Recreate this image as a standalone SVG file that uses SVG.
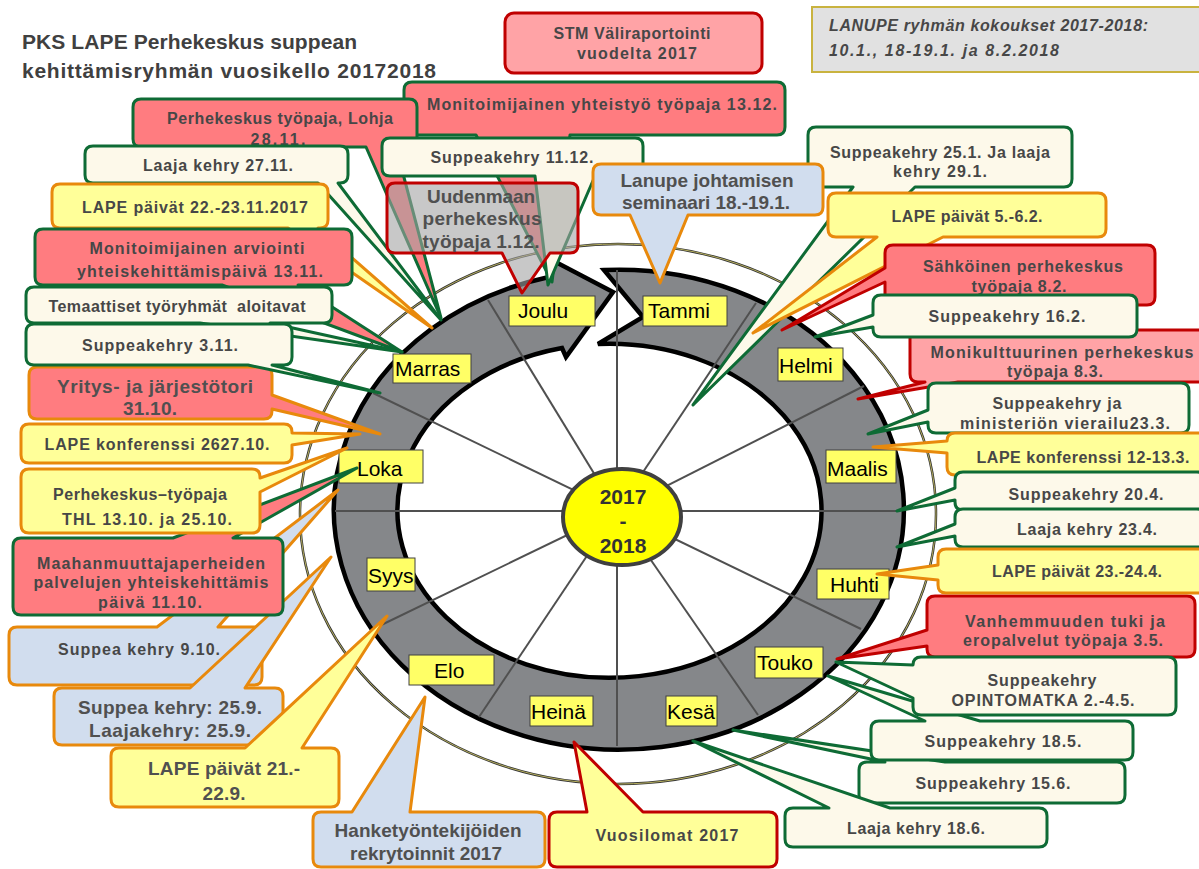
<svg xmlns="http://www.w3.org/2000/svg" width="1199" height="869" viewBox="0 0 1199 869">
<style>
.t{font-family:"Liberation Sans",Arial,sans-serif;font-weight:bold;fill:#474747;text-anchor:middle;font-size:16px}
.a{font-size:19px;fill:#505050}
.m{font-family:"Liberation Sans",Arial,sans-serif;font-size:21px;fill:#000}
.mb{fill:#FFFF66;stroke:#404040;stroke-width:1}
.c{stroke-width:3;stroke-linejoin:round}
.g{stroke:#0E6B35}.o{stroke:#E8890C}.r{stroke:#C00000}
.cr{fill:#FDF9EA}.rd{fill:#FF7C80}.pk{fill:#FFA3A6}.ye{fill:#FFFF99}.bl{fill:#D1DDEE}
.sp{stroke:#505050;stroke-width:2}
</style>
<rect width="1199" height="869" fill="#fff"/>
<g id="title">
<text x="22" y="49" font-family="Liberation Sans,Arial,sans-serif" font-weight="bold" font-size="21" fill="#404040" textLength="335">PKS LAPE Perhekeskus suppean</text>
<text x="22" y="78" font-family="Liberation Sans,Arial,sans-serif" font-weight="bold" font-size="21" fill="#404040" textLength="414">kehittämisryhmän vuosikello 20172018</text>
</g>
<g id="lanupe-info">
<rect x="812" y="7" width="395" height="65" fill="#E1E1E1" stroke="#C9B33F" stroke-width="2"/>
<text x="829" y="31" font-family="Liberation Sans,Arial,sans-serif" font-weight="bold" font-style="italic" font-size="16" fill="#474747" textLength="319">LANUPE ryhmän kokoukset 2017-2018:</text>
<text x="829" y="56" font-family="Liberation Sans,Arial,sans-serif" font-weight="bold" font-style="italic" font-size="16" fill="#474747" textLength="230">10.1., 18-19.1. ja 8.2.2018</text>
</g>
<g id="stm">
<rect x="505" y="13" width="257" height="60" rx="9" class="c r pk"/>
<text class="t" x="632" y="39" textLength="157">STM Väliraportointi</text>
<text class="t" x="637" y="59" textLength="120">vuodelta 2017</text>
</g>
<g id="wheel">
<ellipse cx="618" cy="514" rx="318" ry="270" fill="none" stroke="#333" stroke-width="2.5"/>
<ellipse cx="618" cy="514" rx="318" ry="270" fill="none" stroke="#D8CF6A" stroke-width="0.8"/>
<path d="M604 270 A285 240 0 1 1 549 277 L550 259 L613 292 L566 357 L562 348 A212 167 0 1 0 598 344 L643 317 Z" fill="#85878A" stroke="#000" stroke-width="4.5" stroke-linejoin="miter"/>
</g>
<g id="connectors">
<line class="sp" x1="617" y1="511" x2="899" y2="511"/>
<line class="sp" x1="617" y1="511" x2="861" y2="629"/>
<line class="sp" x1="617" y1="511" x2="758" y2="715"/>
<line class="sp" x1="617" y1="511" x2="617" y2="746"/>
<line class="sp" x1="617" y1="511" x2="479" y2="717"/>
<line class="sp" x1="617" y1="511" x2="373" y2="629"/>
<line class="sp" x1="617" y1="511" x2="335" y2="511"/>
<line class="sp" x1="617" y1="511" x2="373" y2="393"/>
<line class="sp" x1="617" y1="511" x2="488" y2="300"/>
<line class="sp" x1="617" y1="511" x2="617" y2="270"/>
<line class="sp" x1="617" y1="511" x2="756" y2="303"/>
<line class="sp" x1="617" y1="511" x2="864" y2="386"/>
</g>
<g id="center">
<ellipse cx="622" cy="517" rx="59" ry="48" fill="#FFFF00" stroke="#404040" stroke-width="4"/>
<text class="t" x="623" y="504" style="font-size:21px;fill:#333">2017</text>
<text class="t" x="623" y="528" style="font-size:21px;fill:#333">-</text>
<text class="t" x="623" y="553" style="font-size:21px;fill:#333">2018</text>
</g>
<g id="months">
<g id="m-joulu"><rect class="mb" x="509" y="296" width="86" height="30"/><text class="m" x="518" y="318">Joulu</text></g>
<g id="m-tammi"><rect class="mb" x="643" y="296" width="84" height="30"/><text class="m" x="648" y="318">Tammi</text></g>
<g id="m-marras"><rect class="mb" x="393" y="354" width="78" height="29"/><text class="m" x="395" y="376">Marras</text></g>
<g id="m-helmi"><rect class="mb" x="778" y="348" width="65" height="33"/><text class="m" x="779" y="373">Helmi</text></g>
<g id="m-loka"><rect class="mb" x="339" y="450" width="84" height="33"/><text class="m" x="357" y="476">Loka</text></g>
<g id="m-maalis"><rect class="mb" x="826" y="450" width="70" height="33"/><text class="m" x="827" y="476">Maalis</text></g>
<g id="m-syys"><rect class="mb" x="367" y="558" width="48" height="33"/><text class="m" x="368" y="583">Syys</text></g>
<g id="m-huhti"><rect class="mb" x="817" y="569" width="72" height="30"/><text class="m" x="830" y="592">Huhti</text></g>
<g id="m-elo"><rect class="mb" x="409" y="655" width="85" height="30"/><text class="m" x="434" y="678">Elo</text></g>
<g id="m-heina"><rect class="mb" x="530" y="696" width="63" height="30"/><text class="m" x="531" y="719">Heinä</text></g>
<g id="m-kesa"><rect class="mb" x="666" y="696" width="51" height="30"/><text class="m" x="667" y="719">Kesä</text></g>
<g id="m-touko"><rect class="mb" x="755" y="647" width="68" height="31"/><text class="m" x="757" y="670">Touko</text></g>
</g>
<g id="c-yhteistyo"><path class="c g rd" d="M412,82 H777 Q785,82 785,90 V127 Q785,135 777,135 H570 L552,282 L476,135 H412 Q404,135 404,127 V90 Q404,82 412,82 Z"/><text class="t" x="602" y="110" textLength="350">Monitoimijainen yhteistyö työpaja 13.12.</text></g>
<g id="c-lohja"><path class="c g rd" d="M141,99 H409 Q417,99 417,107 V139 Q417,147 409,147 H396 L441,318 L366,147 H141 Q133,147 133,139 V107 Q133,99 141,99 Z"/><text class="t" x="280" y="124" textLength="226">Perhekeskus työpaja, Lohja</text><text class="t" x="278" y="145" textLength="55">28.11.</text></g>
<g id="c-sk1112"><path class="c g cr" d="M390,138 H635 Q643,138 643,146 V168 Q643,176 635,176 H595 L548,285 L535,176 H390 Q382,176 382,168 V146 Q382,138 390,138 Z"/><text class="t" x="512" y="163" textLength="163">Suppeakehry 11.12.</text></g>
<g id="c-lk2711"><path class="c g cr" d="M93,146 H340 Q348,146 348,154 V175 Q348,183 340,183 H338 L441,320 L318,183 H93 Q85,183 85,175 V154 Q85,146 93,146 Z"/><text class="t" x="218" y="171" textLength="150">Laaja kehry 27.11.</text></g>
<g id="c-lape2211"><path class="c o ye" d="M60,184 H320 Q328,184 328,192 V220 Q328,228 320,228 H318 L432,328 L288,228 H60 Q52,228 52,220 V192 Q52,184 60,184 Z"/><text class="t" x="195" y="213" textLength="226">LAPE päivät 22.-23.11.2017</text></g>
<g id="c-arviointi"><path class="c g rd" d="M43,229 H344 Q352,229 352,237 V277 Q352,285 344,285 H298 L402,352 L222,285 H43 Q35,285 35,277 V237 Q35,229 43,229 Z"/><text class="t" x="197" y="254" textLength="215">Monitoimijainen arviointi</text><text class="t" x="200" y="277" textLength="246">yhteiskehittämispäivä 13.11.</text></g>
<g id="c-temaattiset"><path class="c g cr" d="M34,287 H324 Q332,287 332,295 V315 Q332,323 324,323 H270 L402,352 L200,323 H34 Q26,323 26,315 V295 Q26,287 34,287 Z"/><text class="t" x="177" y="312" textLength="257" style="white-space:pre">Temaattiset työryhmät  aloitavat</text></g>
<g id="c-yritys"><path class="c o rd" d="M37,367 H264 Q272,367 272,375 V395 L380,434 L272,409 V411 Q272,419 264,419 H37 Q29,419 29,411 V375 Q29,367 37,367 Z"/><text class="t a" x="155" y="393" textLength="196">Yritys- ja järjestötori</text><text class="t a" x="150" y="415" textLength="54">31.10.</text></g>
<g id="c-sk311"><path class="c g cr" d="M34,324 H284 Q292,324 292,332 V357 Q292,365 284,365 H272 L380,393 L248,365 H34 Q26,365 26,357 V332 Q26,324 34,324 Z"/><text class="t" x="160" y="351" textLength="156">Suppeakehry 3.11.</text></g>
<g id="c-lapekonf10"><path class="c o ye" d="M29,424 H284 Q292,424 292,432 V433 L360,434 L292,445 V455 Q292,463 284,463 H29 Q21,463 21,455 V432 Q21,424 29,424 Z"/><text class="t" x="157" y="450" textLength="225">LAPE konferenssi 2627.10.</text></g>
<g id="c-sk910"><path class="c o bl" d="M17,627 H157 L338,490 L218,627 H254 Q262,627 262,635 V677 Q262,685 254,685 H17 Q9,685 9,677 V635 Q9,627 17,627 Z"/><text class="t" x="139" y="655" textLength="162">Suppea kehry 9.10.</text></g>
<g id="c-sk259"><path class="c o bl" d="M62,688 H190 L331,557 L245,688 H275 Q283,688 283,696 V737 Q283,745 275,745 H62 Q54,745 54,737 V696 Q54,688 62,688 Z"/><text class="t a" x="170" y="714" textLength="184">Suppea kehry: 25.9.</text><text class="t a" x="170" y="737" textLength="162">Laajakehry: 25.9.</text></g>
<g id="c-lape219"><path class="c o ye" d="M119,748 H245 L387,616 L302,748 H331 Q339,748 339,756 V799 Q339,807 331,807 H119 Q111,807 111,799 V756 Q111,748 119,748 Z"/><text class="t a" x="224" y="775" textLength="152">LAPE päivät 21.-</text><text class="t a" x="224" y="800" textLength="43">22.9.</text></g>
<g id="c-maahanmuutto"><path class="c g rd" d="M21,538 H173 L357,468 L233,538 H275 Q283,538 283,546 V607 Q283,615 275,615 H21 Q13,615 13,607 V546 Q13,538 21,538 Z"/><text class="t" x="151" y="569" textLength="228">Maahanmuuttajaperheiden</text><text class="t" x="151" y="588" textLength="235">palvelujen yhteiskehittämis</text><text class="t" x="150" y="608" textLength="104">päivä 11.10.</text></g>
<g id="c-thl"><path class="c o ye" d="M29,469 H252 Q260,469 260,477 V478 L347,448 L260,492 V525 Q260,533 252,533 H29 Q21,533 21,525 V477 Q21,469 29,469 Z"/><text class="t" x="140" y="500" textLength="174">Perhekeskus–työpaja</text><text class="t" x="147" y="525" textLength="170">THL 13.10. ja 25.10.</text></g>
<g id="c-hanke"><path class="c o bl" d="M321,812 H352 L425,697 L410,812 H537 Q545,812 545,820 V859 Q545,867 537,867 H321 Q313,867 313,859 V820 Q313,812 321,812 Z"/><text class="t a" x="428" y="837" textLength="187">Hanketyöntekijöiden</text><text class="t a" x="426" y="860" textLength="152">rekrytoinnit 2017</text></g>
<g id="c-vuosilomat"><path class="c r ye" d="M557,812 H587 L574,742 L643,812 H769 Q777,812 777,820 V859 Q777,867 769,867 H557 Q549,867 549,859 V820 Q549,812 557,812 Z"/><text class="t" x="667" y="841" textLength="143">Vuosilomat 2017</text></g>
<g id="c-sk156"><path class="c g cr" d="M867,762 H885 L733,730 L945,762 H1117 Q1125,762 1125,770 V795 Q1125,803 1117,803 H867 Q859,803 859,795 V770 Q859,762 867,762 Z"/><text class="t" x="993" y="789" textLength="155">Suppeakehry 15.6.</text></g>
<g id="c-lk186"><path class="c g cr" d="M793,808 H829 L693,741 L890,808 H1039 Q1047,808 1047,816 V839 Q1047,847 1039,847 H793 Q785,847 785,839 V816 Q785,808 793,808 Z"/><text class="t" x="916" y="834" textLength="138">Laaja kehry 18.6.</text></g>
<g id="c-sk185"><path class="c g cr" d="M879,721 H925 L828,676 L980,721 H1125 Q1133,721 1133,729 V752 Q1133,760 1125,760 H879 Q871,760 871,752 V729 Q871,721 879,721 Z"/><text class="t" x="1003" y="747" textLength="157">Suppeakehry 18.5.</text></g>
<g id="c-vanhemmuus"><path class="c r rd" d="M935,596 H1187 Q1195,596 1195,604 V649 Q1195,657 1187,657 H935 Q927,657 927,649 V646 L837,659 L927,630 V604 Q927,596 935,596 Z"/><text class="t" x="1065" y="627" textLength="200">Vanhemmuuden tuki ja</text><text class="t" x="1063" y="646" textLength="200">eropalvelut työpaja 3.5.</text></g>
<g id="c-opintomatka"><path class="c g cr" d="M921,657 H1168 Q1176,657 1176,665 V707 Q1176,715 1168,715 H921 Q913,715 913,707 V698 L836,662 L913,665 Q913,657 921,657 Z"/><text class="t" x="1042" y="686" textLength="109">Suppeakehry</text><text class="t" x="1043" y="706" textLength="183">OPINTOMATKA 2.-4.5.</text></g>
<g id="c-sk251"><path class="c g cr" d="M816,127 H1064 Q1072,127 1072,135 V179 Q1072,187 1064,187 H915 L693,405 L853,187 H816 Q808,187 808,179 V135 Q808,127 816,127 Z"/><text class="t" x="940" y="158" textLength="220">Suppeakehry 25.1. Ja laaja</text><text class="t" x="940" y="177" textLength="94">kehry 29.1.</text></g>
<g id="c-lape52"><path class="c o ye" d="M836,193 H1098 Q1106,193 1106,201 V229 Q1106,237 1098,237 H943 L753,333 L877,237 H836 Q828,237 828,229 V201 Q828,193 836,193 Z"/><text class="t" x="967" y="222" textLength="151">LAPE päivät 5.-6.2.</text></g>
<g id="c-sahkoinen"><path class="c r rd" d="M893,245 H1147 Q1155,245 1155,253 V297 Q1155,305 1147,305 H893 Q885,305 885,297 V282 L782,330 L885,268 V253 Q885,245 893,245 Z"/><text class="t" x="1023" y="272" textLength="200">Sähköinen perhekeskus</text><text class="t" x="1019" y="292" textLength="95">työpaja 8.2.</text></g>
<g id="c-monikult"><path class="c r pk" d="M918,330 H1202 Q1210,330 1210,338 V374 Q1210,382 1202,382 H958 L858,399 L925,382 H918 Q910,382 910,374 V338 Q910,330 918,330 Z"/><text class="t" x="1062" y="358" textLength="263">Monikulttuurinen perhekeskus</text><text class="t" x="1055" y="377" textLength="96">työpaja 8.3.</text></g>
<g id="c-sk162"><path class="c g cr" d="M881,295 H1129 Q1137,295 1137,303 V329 Q1137,337 1129,337 H881 Q873,337 873,329 V327 L815,337 L873,315 V303 Q873,295 881,295 Z"/><text class="t" x="1007" y="322" textLength="157">Suppeakehry 16.2.</text></g>
<g id="c-ministerio"><path class="c g cr" d="M936,383 H1181 Q1189,383 1189,391 V425 Q1189,433 1181,433 H936 Q928,433 928,425 V422 L868,434 L928,410 V391 Q928,383 936,383 Z"/><text class="t" x="1057" y="409" textLength="129">Suppeakehry ja</text><text class="t" x="1065" y="429" textLength="210">ministeriön vierailu23.3.</text></g>
<g id="c-lapekonf3"><path class="c o ye" d="M955,433 H1199 Q1207,433 1207,441 V467 Q1207,475 1199,475 H955 Q947,475 947,467 V453 L873,447 L947,441 Q947,433 955,433 Z"/><text class="t" x="1083" y="463" textLength="213">LAPE konferenssi 12-13.3.</text></g>
<g id="c-sk204"><path class="c g cr" d="M963,472 H1197 Q1205,472 1205,480 V502 Q1205,510 1197,510 H963 Q955,510 955,502 V500 L897,511 L955,488 V480 Q955,472 963,472 Z"/><text class="t" x="1086" y="500" textLength="155">Suppeakehry 20.4.</text></g>
<g id="c-lk234"><path class="c g cr" d="M963,509 H1197 Q1205,509 1205,517 V539 Q1205,547 1197,547 H963 Q955,547 955,539 V536 L897,547 L955,524 V517 Q955,509 963,509 Z"/><text class="t" x="1087" y="535" textLength="140">Laaja kehry 23.4.</text></g>
<g id="c-lape234"><path class="c o ye" d="M946,549 H1200 Q1208,549 1208,557 V585 Q1208,593 1200,593 H946 Q938,593 938,585 V580 L877,574 L938,565 V557 Q938,549 946,549 Z"/><text class="t" x="1077" y="577" textLength="170">LAPE päivät 23.-24.4.</text></g>
<g id="c-lanupe"><path class="c o bl" d="M601,164 H815 Q823,164 823,172 V207 Q823,215 815,215 H688 L660,283 L630,215 H601 Q593,215 593,207 V172 Q593,164 601,164 Z"/><text class="t a" x="707" y="187" textLength="173">Lanupe johtamisen</text><text class="t a" x="706" y="209" textLength="168">seminaari 18.-19.1.</text></g>
<g id="c-uudenmaa"><path class="c r" fill="#A3A3A3" fill-opacity="0.6" d="M395,183 H570 Q578,183 578,191 V245 Q578,253 570,253 H550 L522,293 L502,253 H395 Q387,253 387,245 V191 Q387,183 395,183 Z"/><text class="t a" x="481" y="203" textLength="108">Uudenmaan</text><text class="t a" x="482" y="225" textLength="119">perhekeskus</text><text class="t a" x="481" y="248" textLength="117">työpaja 1.12.</text></g>
</svg>
